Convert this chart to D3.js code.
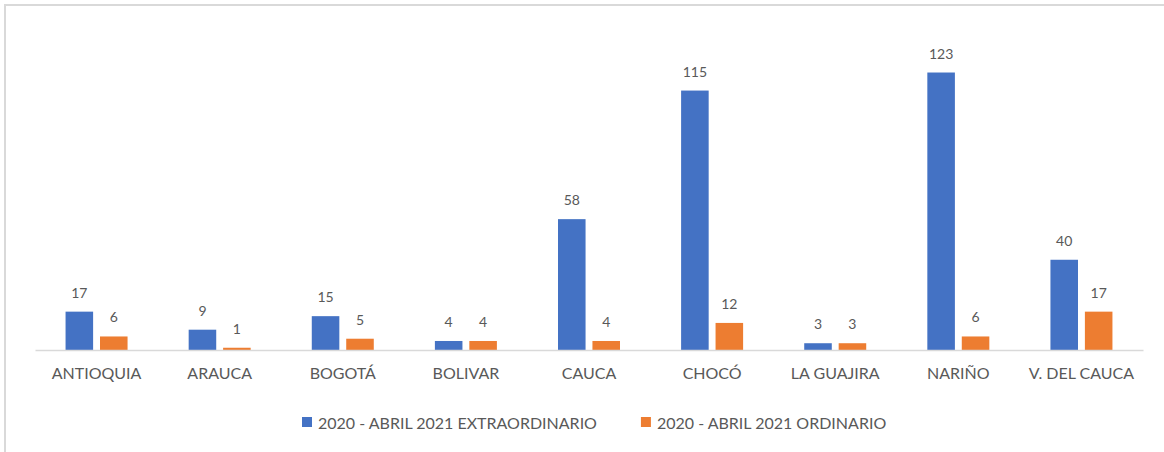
<!DOCTYPE html>
<html>
<head>
<meta charset="utf-8">
<script src="https://cdn.jsdelivr.net/npm/d3@7"></script>
<style>
  body { margin: 0; background: #fff; }
  text { font-family: Lato, "Liberation Sans", sans-serif; fill: #595959; }
</style>
</head>
<body>
<svg id="chart"></svg>
<script>
// data
const categories = ['ANTIOQUIA', 'ARAUCA', 'BOGOTÁ', 'BOLIVAR', 'CAUCA', 'CHOCÓ', 'LA GUAJIRA', 'NARIÑO', 'V. DEL CAUCA'];
const extraordinario = [17, 9, 15, 4, 58, 115, 3, 123, 40];
const ordinario = [6, 1, 5, 4, 4, 12, 3, 6, 17];
const seriesNames = ['2020 - ABRIL 2021 EXTRAORDINARIO', '2020 - ABRIL 2021 ORDINARIO'];
const colors = ['#4472C4', '#ED7D31'];

const width = 1164;
const height = 452;
const left = 35, right = 1143, base = 350;

const svg = d3.select('#chart')
  .attr('width', width)
  .attr('height', height);

// chart frame (only top/left visible in the crop)
svg.append('rect')
  .attr('x', 5).attr('y', 5)
  .attr('width', 1200).attr('height', 500)
  .attr('fill', 'none')
  .attr('stroke', '#d9d9d9')
  .attr('stroke-width', 2);

const rows = categories.map((c, i) => ({ cat: c, values: [extraordinario[i], ordinario[i]] }));

const x0 = d3.scaleBand()
  .domain(categories)
  .range([left, right]);

const bw = x0.bandwidth();
const groupW = 62;
const x1 = d3.scaleBand()
  .domain([0, 1])
  .range([(bw - groupW) / 2, (bw + groupW) / 2])
  .paddingInner(0.2);

const y = d3.scaleLinear()
  .domain([0, 140])
  .range([base, base - 140 * 2.256]);

const groups = svg.append('g')
  .selectAll('g')
  .data(rows)
  .enter()
  .append('g')
  .attr('transform', (d) => `translate(${x0(d.cat)},0)`);

groups.selectAll('rect')
  .data((d) => d.values.map((v, k) => ({ v, k })))
  .enter()
  .append('rect')
  .attr('x', (d) => x1(d.k))
  .attr('y', (d) => y(d.v))
  .attr('width', x1.bandwidth())
  .attr('height', (d) => y(0) - y(d.v))
  .attr('fill', (d) => colors[d.k]);

groups.selectAll('text.val')
  .data((d) => d.values.map((v, k) => ({ v, k })))
  .enter()
  .append('text')
  .attr('class', 'val')
  .attr('x', (d) => x1(d.k) + x1.bandwidth() / 2)
  .attr('y', (d) => y(d.v) - 14)
  .attr('text-anchor', 'middle')
  .style('font-size', '14px')
  .text((d) => d.v);

// baseline + category labels
const xAxis = svg.append('g')
  .attr('transform', `translate(0,${base})`)
  .call(d3.axisBottom(x0).tickSize(0).tickPadding(18));
xAxis.select('.domain').attr('stroke', '#d9d9d9').attr('stroke-width', 1.5);
xAxis.selectAll('text')
  .style('font-size', '16px')
  .style('font-family', 'Lato, "Liberation Sans", sans-serif')
  .attr('fill', '#595959');

// legend
const legend = svg.append('g').attr('transform', 'translate(302,423)');
let lx = 0;
seriesNames.forEach((name, i) => {
  legend.append('rect')
    .attr('x', lx).attr('y', -6)
    .attr('width', 10).attr('height', 10)
    .attr('fill', colors[i]);
  const t = legend.append('text')
    .attr('x', lx + 16)
    .attr('y', 0)
    .attr('dy', '0.35em')
    .style('font-size', '16px')
    .text(name);
  lx += 16 + t.node().getComputedTextLength() + 44;
});
</script>
</body>
</html>
